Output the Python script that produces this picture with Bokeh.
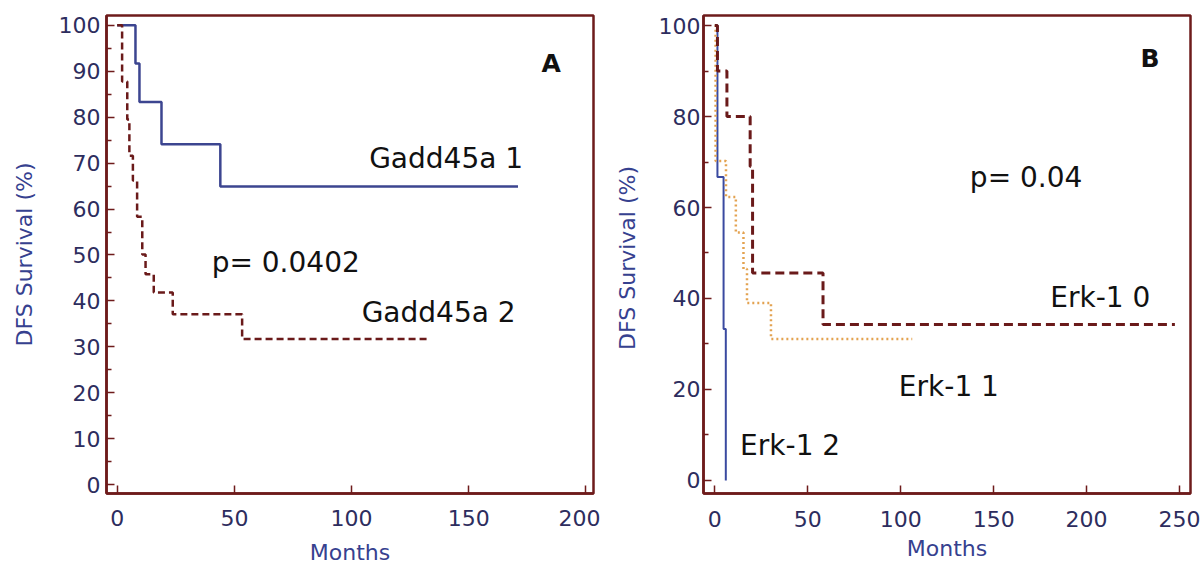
from bokeh.plotting import figure
from bokeh.layouts import row
from bokeh.models import Range1d, FixedTicker
from bokeh.core.properties import value
from bokeh.embed import file_html
from bokeh.resources import INLINE

# ---------------- Panel A data (Gadd45a) ----------------
gadd1_months = [0, 7.8, 9.5, 18.9, 44.0, 171.0]
gadd1_surv = [100, 91.7, 83.3, 74.1, 64.9, 64.9]
gadd2_months = [0, 2.1, 4.3, 5.2, 6.7, 8.5, 10.7, 12.1, 15.6, 23.7, 53.3, 132.8]
gadd2_surv = [100, 87.8, 79.5, 71.6, 66.2, 58.3, 50.1, 45.8, 41.8, 37.1, 31.7, 31.7]
a_xticks = [0, 50, 100, 150, 200]
a_yticks = [0, 10, 20, 30, 40, 50, 60, 70, 80, 90, 100]
a_labels = ["Gadd45a 1", "Gadd45a 2", "p= 0.0402"]

# ---------------- Panel B data (Erk-1) ----------------
erk0_months = [0, 1.4, 6.5, 19.0, 20.3, 58.2, 247.5]
erk0_surv = [100, 90.0, 80.0, 69.0, 45.6, 34.3, 34.3]
erk1_months = [0, 0.4, 6.0, 11.3, 15.4, 17.3, 30.2, 106.2]
erk1_surv = [100, 70.2, 62.3, 54.5, 46.5, 39.0, 31.1, 31.1]
erk2_months = [0, 1.4, 4.7, 5.9]
erk2_surv = [100, 66.7, 33.3, 0]
b_xticks = [0, 50, 100, 150, 200, 250]
b_yticks = [0, 20, 40, 60, 80, 100]
b_labels = ["p= 0.04", "Erk-1 0", "Erk-1 1", "Erk-1 2"]

# ---------------- styling / placement ----------------
FONT = "DejaVu Sans"
FRAME = "#6e1b1b"
TICK_TXT = "#2d2d5e"
AXIS_TXT = "#36418f"
NAVY = "#3c4590"
DARKRED = "#6a1a1a"
ORANGE = "#e3a250"

a_label_x = [107.5, 104.3, 40.3]
a_label_y = [71.1, 37.5, 48.4]
b_label_x = [137.2, 180.5, 99.0, 13.6]
b_label_y = [66.6, 40.3, 20.7, 7.7]


def make_fig(width, height, xr, yr, ml, mr, mt, mb, xticks, yticks,
             lab_standoff_y, axis_standoff_y, lab_standoff_x, axis_standoff_x, ylabel):
    p = figure(width=width, height=height,
               x_range=Range1d(*xr), y_range=Range1d(*yr),
               output_backend="svg", toolbar_location=None,
               min_border_left=ml, min_border_right=mr,
               min_border_top=mt, min_border_bottom=mb,
               background_fill_color="white", border_fill_color="white")
    p.grid.visible = False
    p.outline_line_color = FRAME
    p.outline_line_width = 2.5
    p.outline_line_alpha = 1.0

    minor_y = [(yticks[i] + yticks[i + 1]) / 2 for i in range(len(yticks) - 1)]
    p.xaxis.ticker = FixedTicker(ticks=xticks, minor_ticks=[])
    p.yaxis.ticker = FixedTicker(ticks=yticks, minor_ticks=minor_y)

    for ax in (p.xaxis[0], p.yaxis[0]):
        ax.axis_line_color = FRAME
        ax.axis_line_width = 2.5
        ax.major_tick_line_color = FRAME
        ax.major_tick_line_width = 1.5
        ax.minor_tick_line_color = FRAME
        ax.minor_tick_line_width = 1.5
        ax.major_tick_in = 8
        ax.major_tick_out = 0
        ax.minor_tick_in = 5
        ax.minor_tick_out = 0
        ax.major_label_text_font = FONT
        ax.major_label_text_font_size = "22px"
        ax.major_label_text_color = TICK_TXT
        ax.axis_label_text_font = FONT
        ax.axis_label_text_font_size = "22px"
        ax.axis_label_text_font_style = "normal"
        ax.axis_label_text_color = AXIS_TXT

    p.xaxis.axis_label = "Months"
    p.xaxis.major_label_standoff = lab_standoff_x
    p.xaxis.axis_label_standoff = axis_standoff_x
    p.yaxis.axis_label = ylabel
    p.yaxis.major_label_standoff = lab_standoff_y
    p.yaxis.axis_label_standoff = axis_standoff_y
    return p


# ---------------- Panel A ----------------
pa = make_fig(600, 568, (-4.56, 203.2), (-1.95, 102.15), 106, 7, 15, 70,
              a_xticks, a_yticks, 6, 19, 16, 11, "DFS Survival (%)")
pa.step(gadd1_months, gadd1_surv, mode="after", line_color=NAVY, line_width=2.5)
pa.step(gadd2_months, gadd2_surv, mode="after", line_color=DARKRED, line_width=2.5,
        line_dash="7 4")
pa.text(x=a_label_x, y=a_label_y, text=a_labels, text_font=value(FONT),
        text_font_size=value("28px"), text_color="#111111",
        text_align="left", text_baseline="alphabetic")
pa.text(x=[185.1], y=[91.8], text=["A"], text_font=value(FONT),
        text_font_size=value("25px"), text_font_style="bold", text_color="#111111",
        text_align="center", text_baseline="alphabetic")

# ---------------- Panel B ----------------
pb = make_fig(600, 568, (-6.1, 255.9), (-2.86, 102.2), 103, 10, 15, 75,
              b_xticks, b_yticks, 3, 16, 17, 6, "DFS Survival  (%)")
pb.step(erk2_months, erk2_surv, mode="after", line_color="#3a4aa0", line_width=2)
pb.step(erk1_months, erk1_surv, mode="after", line_color=ORANGE, line_width=2.5,
        line_dash="2 3")
pb.step(erk0_months, erk0_surv, mode="after", line_color=DARKRED, line_width=3,
        line_dash="9 5")
pb.text(x=b_label_x, y=b_label_y, text=b_labels, text_font=value(FONT),
        text_font_size=value("28px"), text_color="#111111",
        text_align="left", text_baseline="alphabetic")
pb.text(x=[234.1], y=[92.8], text=["B"], text_font=value(FONT),
        text_font_size=value("25px"), text_font_style="bold", text_color="#111111",
        text_align="center", text_baseline="alphabetic")

layout = row(pa, pb)
open("out.html", "w").write(file_html(layout, INLINE))
